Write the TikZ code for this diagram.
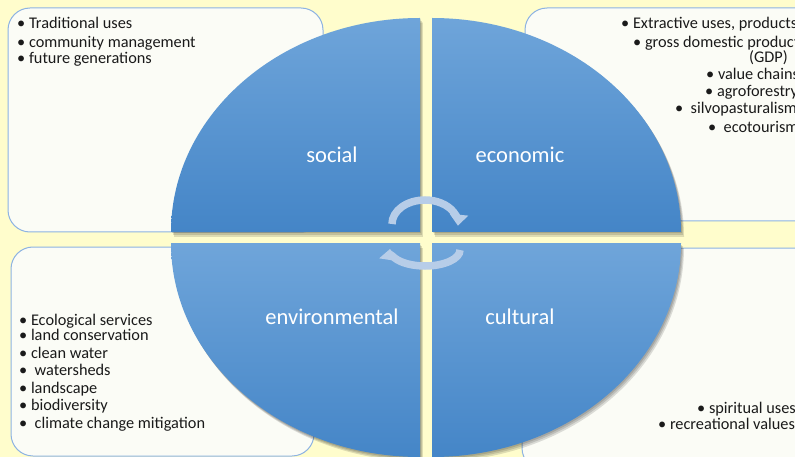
\documentclass[tikz,border=0pt]{standalone}
\usepackage{fontspec}
\setmainfont{Carlito}
\usetikzlibrary{arrows.meta}
\definecolor{bg}{HTML}{FFFDCC}
\definecolor{boxfill}{HTML}{FBFCF6}
\definecolor{boxline}{HTML}{8DB3E2}
\definecolor{qtop}{HTML}{6FA5DA}
\definecolor{qmid}{HTML}{5699DA}
\definecolor{qbot}{HTML}{4485C7}
\definecolor{arrowc}{HTML}{B7CDE8}
\definecolor{txt}{HTML}{1A1A1A}
\tikzset{
  infobox/.style={draw=boxline, line width=1pt, fill=boxfill, rounded corners=22pt},
  item/.style={anchor=base west, inner sep=0pt, text=txt, font=\fontsize{16.3}{18}\selectfont},
  qlabel/.style={anchor=base, inner sep=0pt, text=white, font=\fontsize{22.5}{26}\selectfont},
  cyc/.style={draw=arrowc, line width=7.5pt, -{Triangle[width=18pt,length=11pt]}},
}
\newcommand\QuadShadow[4]{%
  \foreach \dx/\dy in {1/1.5,2/3,3/4.5}{%
    \begin{scope}[shift={(\dx,\dy)}]
      \clip (#1,#2) ellipse [x radius=249, y radius=214];
      \fill[black, opacity=0.13] (#1,#2) rectangle (#3,#4);
    \end{scope}}}
\newcommand\QuadShape[4]{%
  \begin{scope}
    \clip (#1,#2) ellipse [x radius=249, y radius=214];
    \shade[top color=qtop, middle color=qmid, bottom color=qbot] (#1,#2) rectangle (#3,#4);
  \end{scope}}
\begin{document}
\begin{tikzpicture}[x=1pt, y=-1pt]
\useasboundingbox (0,0) rectangle (795,457);
\clip (0,0) rectangle (795,457);
\fill[bg] (0,0) rectangle (795,457);

% text boxes
\draw[infobox] (8,8) rectangle (323,232);
\draw[infobox] (525,8) rectangle (820,221);
\draw[infobox] (11,247) rectangle (314,456);
\draw[infobox] (522,248) rectangle (820,470);

% top-left texts
\node[item] (tl1) at (17,29) {• Traditional uses};
\node[item] (tl2) at (17,48) {• community management};
\node[item] (tl3) at (17,64) {• future generations};

% top-right texts
\node[item] (tr1) at (621,29) {• Extractive uses, products};
\node[item] (tr2) at (633,48) {• gross domestic product};
\node[item] (tr3) at (749,63) {(GDP)};
\node[item] (tr4) at (706,80) {• value chains};
\node[item] (tr5) at (705,97) {• agroforestry};
\node[item] (tr6) at (675,114) {•\ \ silvopasturalism};
\node[item] (tr7) at (708,133) {•\ \ ecotourism};

% bottom-left texts
\node[item] (bl1) at (19,325) {• Ecological services};
\node[item] (bl2) at (19,340) {• land conservation};
\node[item] (bl3) at (19,358) {• clean water};
\node[item] (bl4) at (19,375) {•\ \ watersheds};
\node[item] (bl5) at (19,393) {• landscape};
\node[item] (bl6) at (19,410) {• biodiversity};
\node[item] (bl7) at (19,428) {•\ \ climate change mitigation};

% bottom-right texts
\node[item] (br1) at (697,413) {• spiritual uses};
\node[item] (br2) at (658,429) {• recreational values};

% quadrants
\QuadShadow{420}{232}{170}{16}
\QuadShadow{432}{232}{684}{16}
\QuadShadow{420}{243}{170}{460}
\QuadShadow{432}{243}{684}{460}
\QuadShape{420}{232}{170}{16}
\QuadShape{432}{232}{684}{16}
\QuadShape{420}{243}{170}{460}
\QuadShape{432}{243}{684}{460}

% labels
\node[qlabel] (social) at (332,163) {social};
\node[qlabel] (economic) at (520,163) {economic};
\node[qlabel] (environmental) at (332,324) {environmental};
\node[qlabel] (cultural) at (520,324) {cultural};

% circular arrows
\draw[cyc] (392,224) arc[start angle=180, end angle=364, x radius=33, y radius=24];
\draw[cyc] (460,250) arc[start angle=0, end angle=184, x radius=35, y radius=16];
\end{tikzpicture}
\end{document}
